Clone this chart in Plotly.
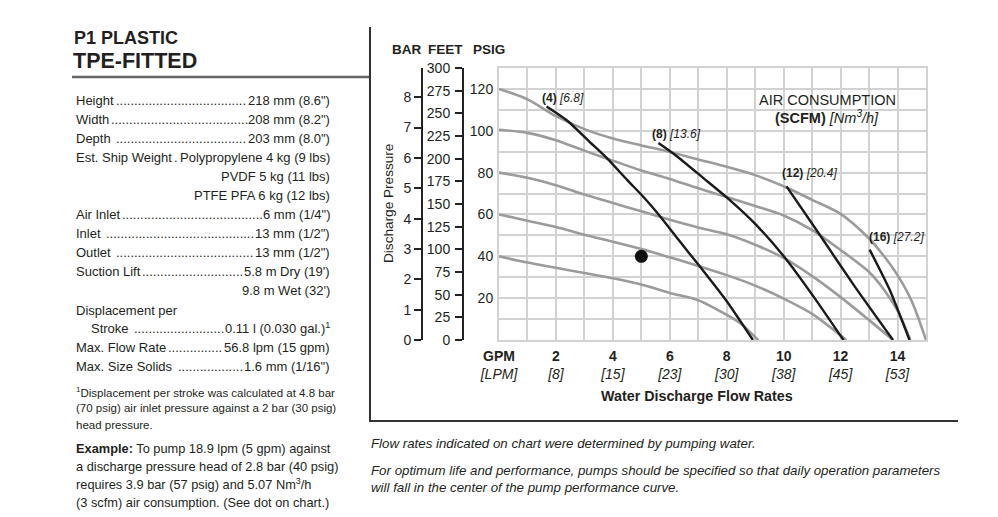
import plotly.graph_objects as go

# ---------------- data ----------------
gpm_tick_vals = [0, 2, 4, 6, 8, 10, 12, 14]
gpm_tick_text = ["GPM", "2", "4", "6", "8", "10", "12", "14"]
lpm_tick_text = ["[LPM]", "[8]", "[15]", "[23]", "[30]", "[38]", "[45]", "[53]"]
psig_tick_vals = [20, 40, 60, 80, 100, 120]
psig_tick_text = ["20", "40", "60", "80", "100", "120"]
feet_tick_vals = list(range(0, 301, 25))
bar_tick_vals = list(range(0, 9))
PSI_PER_BAR = 14.5038

# air inlet pressure curves (x = GPM, y = PSIG discharge)
air120_gpm = [0, 1, 2, 3, 4, 5, 6, 7, 8, 9, 10, 11, 12, 13, 13.5, 14, 14.5, 15]
air120_psig = [120, 115, 107, 100.8, 96.3, 93, 89.9, 86.3, 82.8, 78.8, 73.5, 67, 60.3, 48.5, 40.5, 31, 18.5, 0]
air100_gpm = [0, 1, 2, 3, 4, 5, 6, 7, 8, 9, 10, 11, 12, 13, 13.5, 14, 14.45]
air100_psig = [100.5, 99, 95.5, 90.5, 85.7, 81, 77, 72.5, 68.3, 64, 59.5, 52.5, 43, 32.5, 24.5, 14, 0]
air80_gpm = [0, 1, 2, 3, 4, 5, 6, 7, 8, 9, 10, 11, 12, 13, 13.84]
air80_psig = [80, 77.5, 74, 69.5, 65.5, 61.5, 57.5, 53.8, 50.5, 45.5, 39.2, 30.5, 20.5, 9.5, 0]
air60_gpm = [0, 1, 2, 3, 4, 5, 6, 7, 8, 9, 10, 11, 11.6, 12.2]
air60_psig = [60, 57, 54, 50.3, 47, 43.5, 39.5, 35.4, 31, 26, 19.8, 12.5, 6.5, 0]
air40_gpm = [0, 1, 2, 3, 4, 5, 6, 7, 8, 8.5, 9.1]
air40_psig = [40, 37, 34.5, 32, 29.5, 26.5, 22.5, 19, 12, 7.8, 0]

# air consumption lines (SCFM)
scfm4_gpm = [1.67, 2.4, 3.2, 3.8, 4.5, 5.1, 5.65, 6.3, 7.05, 8.0, 8.92]
scfm4_psig = [111.6, 104.8, 94.5, 86.8, 76.5, 68, 59.3, 48, 35.2, 18.5, 0]
scfm8_gpm = [5.6, 6.2, 7.17, 8.1, 9.0, 10.1, 11.1, 12.1]
scfm8_psig = [94.1, 88.3, 77.5, 67, 55.5, 38.4, 19.8, 0]
scfm12_gpm = [10.1, 11.26, 12.5, 13.84]
scfm12_psig = [73.4, 50.4, 25.5, 0]
scfm16_gpm = [13.02, 13.72, 14.42]
scfm16_psig = [43.2, 24.1, 0]

scfm_labels = ["(4)", "(8)", "(12)", "(16)"]
nm3h_labels = ["[6.8]", "[13.6]", "[20.4]", "[27.2]"]
scfm_label_gpm = [1.44, 5.3, 9.87, 12.92]
scfm_label_psig = [115.7, 98.6, 79.8, 49.3]

example_gpm = [5]
example_psig = [40]

# ---------------- layout helpers ----------------
W, H = 998, 517
OFF = 8          # page body margin: figure is drawn 8px in from the window corner
ML, MR, MT, MB = 0, 80, 60, 185
PW = W - ML - MR
PH = H - MT - MB


def px(x):
    """screen x pixel -> paper fraction"""
    return (x - OFF - ML) / PW


def py(y):
    """screen y pixel -> paper fraction"""
    return ((H - MB) - (y - OFF)) / PH


# approximate Arial / Liberation Sans advance widths (per 1000 em) for leader-dot sizing
AW = {' ': 278, '"': 355, "'": 191, '(': 333, ')': 333, '.': 278, '/': 278, ':': 278, '-': 333,
      'A': 667, 'D': 722, 'E': 667, 'F': 611, 'H': 722, 'I': 278, 'L': 556, 'M': 833, 'O': 778,
      'P': 667, 'R': 722, 'S': 667, 'T': 611, 'V': 667, 'W': 944,
      'a': 556, 'b': 556, 'c': 500, 'd': 556, 'e': 556, 'f': 278, 'g': 556, 'h': 556, 'i': 222,
      'k': 500, 'l': 222, 'm': 833, 'n': 556, 'o': 556, 'p': 556, 'r': 333, 's': 500, 't': 278,
      'u': 556, 'w': 722, 'x': 500, 'y': 500, 'z': 500}
for d in "0123456789":
    AW[d] = 556


def text_width(s, size):
    sup = 0.7 * 556 if "<sup>1</sup>" in s else 0
    s = s.replace("<sup>1</sup>", "")
    return (sum(AW.get(c, 556) for c in s) + sup) * size / 1000.0


SANS = "Liberation Sans, Arial, Helvetica, sans-serif"
TXT = "#231f20"
GRID = "#d2d2d2"
GRAY_CURVE = "#9b9b9b"
BLACK_CURVE = "#1a1a1a"

fig = go.Figure()

for xs, ys in [(air120_gpm, air120_psig), (air100_gpm, air100_psig), (air80_gpm, air80_psig),
               (air60_gpm, air60_psig), (air40_gpm, air40_psig)]:
    fig.add_trace(go.Scatter(x=xs, y=ys, mode="lines", line=dict(color=GRAY_CURVE, width=2.6, shape="spline", smoothing=0.8),
                             hoverinfo="skip", showlegend=False))

for xs, ys in [(scfm4_gpm, scfm4_psig), (scfm8_gpm, scfm8_psig), (scfm12_gpm, scfm12_psig), (scfm16_gpm, scfm16_psig)]:
    fig.add_trace(go.Scatter(x=xs, y=ys, mode="lines", line=dict(color=BLACK_CURVE, width=2.4, shape="spline", smoothing=0.6),
                             hoverinfo="skip", showlegend=False))

fig.add_trace(go.Scatter(x=example_gpm, y=example_psig, mode="markers",
                         marker=dict(size=13, color="#111111"), hoverinfo="skip", showlegend=False))

# dummy traces so the BAR and FEET axes are drawn
fig.add_trace(go.Scatter(x=[0], y=[0], yaxis="y2", mode="markers", marker=dict(opacity=0, size=1),
                         hoverinfo="skip", showlegend=False))
fig.add_trace(go.Scatter(x=[0], y=[0], yaxis="y3", mode="markers", marker=dict(opacity=0, size=1),
                         hoverinfo="skip", showlegend=False))

x_ticktext = [f"<b>{g}</b><br><i>{l}</i>" for g, l in zip(gpm_tick_text, lpm_tick_text)]

axis_font = dict(family=SANS, size=14, color=TXT)

fig.update_layout(
    template="none",
    width=W, height=H,
    margin=dict(l=ML, r=MR, t=MT, b=MB, pad=0, autoexpand=False),
    paper_bgcolor="white", plot_bgcolor="white",
    showlegend=False, hovermode=False,
    xaxis=dict(domain=[px(499), 1], range=[0, 15], tickvals=gpm_tick_vals, ticktext=x_ticktext,
               showgrid=True, gridcolor=GRID, gridwidth=2, showline=True, mirror=True,
               minor=dict(tick0=0, dtick=1, showgrid=True, gridcolor=GRID, gridwidth=2, ticks=""),
               linecolor=GRID, linewidth=2, zeroline=False, ticks="", tickfont=axis_font,
               ticklabelstandoff=2, automargin=False, fixedrange=True),
    yaxis=dict(range=[0, 130], tickvals=psig_tick_vals, ticktext=psig_tick_text,
               showgrid=True, gridcolor=GRID, gridwidth=2, showline=True, mirror=True,
               minor=dict(tick0=0, dtick=10, showgrid=True, gridcolor=GRID, gridwidth=2, ticks=""),
               linecolor=GRID, linewidth=2, zeroline=False, ticks="", tickfont=axis_font,
               ticklabelstandoff=1, automargin=False, fixedrange=True),
    yaxis2=dict(overlaying="y", anchor="free", position=px(463), side="left", range=[0, 300],
                tickvals=feet_tick_vals, ticks="outside", ticklen=7, tickwidth=2, tickcolor="#222",
                showline=True, linecolor="#222", linewidth=2, showgrid=False, zeroline=False,
                tickfont=axis_font, ticklabelstandoff=2, automargin=False, fixedrange=True),
    yaxis3=dict(overlaying="y", anchor="free", position=px(422), side="left", range=[0, 130 / PSI_PER_BAR],
                tickvals=bar_tick_vals, ticks="outside", ticklen=7, tickwidth=2, tickcolor="#222",
                showline=True, linecolor="#222", linewidth=2, showgrid=False, zeroline=False,
                tickfont=axis_font, automargin=False, fixedrange=True),
)

ann = []


def text(x, y, t, size, family=SANS, xanchor="left", color=TXT, **kw):
    ann.append(dict(x=px(x), y=py(y), xref="paper", yref="paper", text=t, showarrow=False,
                    xanchor=xanchor, yanchor="middle", font=dict(family=family, size=size, color=color), **kw))


# chart labels
for s, n, gx, gy in zip(scfm_labels, nm3h_labels, scfm_label_gpm, scfm_label_psig):
    ann.append(dict(x=gx, y=gy, xref="x", yref="y", text=f"<b>{s}</b> <i>{n}</i>", showarrow=False,
                    xanchor="left", yanchor="middle", font=dict(family=SANS, size=12, color=TXT)))

text(827, 100, "AIR CONSUMPTION", 14.5, xanchor="center")
text(827, 117, "<b>(SCFM)</b> <i>[Nm<sup>3</sup>/h]</i>", 14.5, xanchor="center")
text(406, 49, "<b>BAR</b>", 13.5, xanchor="center")
text(445, 49, "<b>FEET</b>", 13.5, xanchor="center")
text(489, 49, "<b>PSIG</b>", 13.5, xanchor="center")
text(697, 396, "<b>Water Discharge Flow Rates</b>", 14.3, xanchor="center")
ann.append(dict(x=px(388), y=py(204), xref="paper", yref="paper", text="Discharge Pressure", showarrow=False,
                textangle=-90, xanchor="center", yanchor="middle", font=dict(family=SANS, size=13.6, color=TXT)))

text(369, 443, "<i>Flow rates indicated on chart were determined by pumping water.</i>", 13.3)
text(369, 470, "<i>For optimum life and performance, pumps should be specified so that daily operation parameters</i>", 13.3)
text(369, 488, "<i>will fall in the center of the pump performance curve.</i>", 13.3)

# left panel
text(72, 38, "<b>P1 PLASTIC</b>", 18)
text(71, 61, "<b>TPE-FITTED</b>", 21.5)

spec_labels = ["Height", "Width", "Depth ", "Est. Ship Weight", "", "", "Air Inlet", "Inlet ", "Outlet ",
               "Suction Lift", "", "Displacement per", "Stroke ", "Max. Flow Rate", "Max. Size Solids "]
spec_values = ["218 mm (8.6\")", "208 mm (8.2\")", "203 mm (8.0\")", "Polypropylene 4 kg (9 lbs)",
               "PVDF 5 kg (11 lbs)", "PTFE PFA 6 kg (12 lbs)", "6 mm (1/4\")", "13 mm (1/2\")", "13 mm (1/2\")",
               "5.8 m Dry (19')", "9.8 m Wet (32')", "", "0.11 l (0.030 gal.)<sup>1</sup>", "56.8 lpm (15 gpm)",
               "1.6 mm (1/16\")"]
spec_y = [100, 119, 138, 157, 176, 195, 214, 233, 252, 271, 290, 310, 328, 347, 366]
spec_indent = [74, 74, 74, 74, 74, 74, 74, 74, 74, 74, 74, 74, 89, 74, 74]
VAL_RIGHT = 332
FS = 13
DOT_W = AW['.'] * FS / 1000.0
for lab, val, yy, xi in zip(spec_labels, spec_values, spec_y, spec_indent):
    if lab:
        text(xi, yy, lab.rstrip(), FS)
    if val:
        text(VAL_RIGHT, yy, val, FS, xanchor="right")
    if lab and val:
        start = xi + text_width(lab, FS) + 2
        end = VAL_RIGHT - text_width(val, FS) - 3
        n = max(int((end - start) / DOT_W), 0)
        if n:
            text(start, yy, "." * n, FS)

foot = ["<sup>1</sup>Displacement per stroke was calculated at 4.8 bar",
        "(70 psig) air inlet pressure against a 2 bar (30 psig)",
        "head pressure."]
for i, t in enumerate(foot):
    text(74, [392, 408, 425][i], t, 11.5)

example = ["<b>Example:</b> To pump 18.9 lpm (5 gpm) against",
           "a discharge pressure head of 2.8 bar (40 psig)",
           "requires 3.9 bar (57 psig) and 5.07 Nm<sup>3</sup>/h",
           "(3 scfm) air consumption. (See dot on chart.)"]
for i, t in enumerate(example):
    text(74, [448, 466, 484, 502][i], t, 12.8)

fig.update_layout(annotations=ann)

shapes = [
    dict(type="line", xref="paper", yref="paper", x0=px(72), x1=px(370), y0=py(77), y1=py(77),
         line=dict(color="#666666", width=2.5)),
    dict(type="line", xref="paper", yref="paper", x0=px(370), x1=px(370), y0=py(27), y1=py(421),
         line=dict(color="#333333", width=2)),
    dict(type="line", xref="paper", yref="paper", x0=px(369), x1=px(958), y0=py(421), y1=py(421),
         line=dict(color="#333333", width=2)),
]
fig.update_layout(shapes=shapes)

fig.write_html("out.html")
